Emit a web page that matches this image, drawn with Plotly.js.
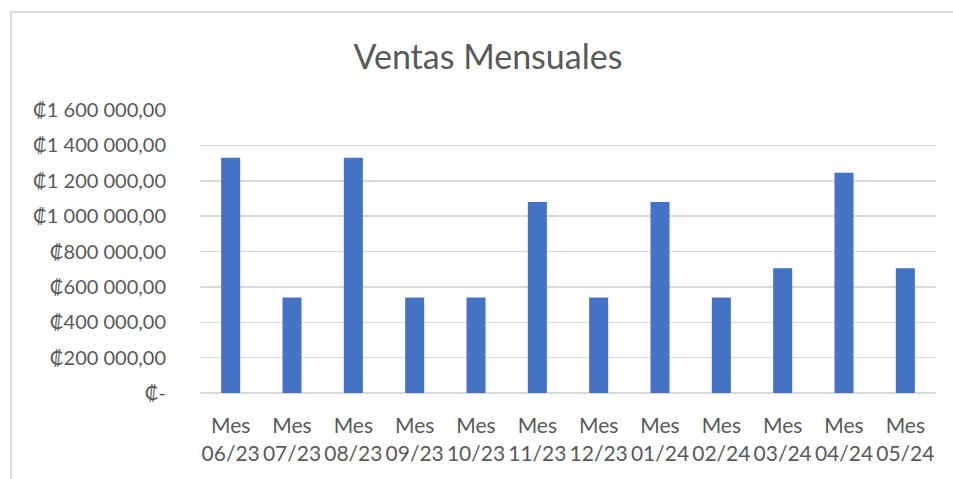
<!DOCTYPE html>
<html>
<head>
<meta charset="utf-8">
<script src="https://cdn.plot.ly/plotly-3.0.1.min.js"></script>
<style>
  html, body { margin: 0; padding: 0; background: #fff; overflow: hidden; }
  #frame { position: absolute; left: 10px; top: 11px; width: 1000px; height: 520px;
           border-left: 2px solid #d9d9d9; border-top: 2px solid #d9d9d9; box-sizing: border-box; }
  #chart { position: absolute; left: 0; top: 0; width: 953px; height: 479px; }
</style>
</head>
<body>
<div id="frame"></div>
<div id="chart"></div>
<script>
const categories = ["Mes<br>06/23","Mes<br>07/23","Mes<br>08/23","Mes<br>09/23","Mes<br>10/23","Mes<br>11/23",
                    "Mes<br>12/23","Mes<br>01/24","Mes<br>02/24","Mes<br>03/24","Mes<br>04/24","Mes<br>05/24"];
const ventas = [1330000, 540000, 1330000, 540000, 540000, 1080000, 540000, 1080000, 540000, 705000, 1245000, 705000];
const yTickVals = [0, 200000, 400000, 600000, 800000, 1000000, 1200000, 1400000, 1600000];
const yTickText = ["₡-", "₡200 000,00", "₡400 000,00", "₡600 000,00", "₡800 000,00",
                   "₡1 000 000,00", "₡1 200 000,00", "₡1 400 000,00", "₡1 600 000,00"];

const textColor = "#595959";
const fontFam = "Lato, 'Open Sans', 'DejaVu Sans', sans-serif";

Plotly.newPlot("chart", [{
  type: "bar",
  x: categories,
  y: ventas,
  marker: { color: "#4472C4" },
  hoverinfo: "none"
}], {
  width: 953, height: 479,
  margin: { l: 200, r: 17, t: 110, b: 86 },
  paper_bgcolor: "rgba(0,0,0,0)",
  plot_bgcolor: "rgba(0,0,0,0)",
  bargap: 0.69,
  showlegend: false,
  title: { text: "Ventas Mensuales", x: 0.512, xanchor: "center", y: 0.88, yanchor: "middle",
           font: { family: fontFam, size: 34, color: textColor } },
  xaxis: {
    type: "category",
    tickfont: { family: fontFam, size: 21, color: textColor },
    showgrid: false, showline: false, zeroline: false,
    ticks: "outside", ticklen: 14, tickcolor: "rgba(0,0,0,0)"
  },
  yaxis: {
    range: [0, 1600000],
    tickvals: yTickVals, ticktext: yTickText,
    tickfont: { family: fontFam, size: 20, color: textColor },
    showgrid: true, gridcolor: "#d9d9d9", gridwidth: 1.5,
    zeroline: true, zerolinecolor: "#d9d9d9", zerolinewidth: 1.5,
    showline: false,
    ticks: "outside", ticklen: 29, tickcolor: "rgba(0,0,0,0)"
  }
}, { displayModeBar: false, staticPlot: true });
</script>
</body>
</html>
